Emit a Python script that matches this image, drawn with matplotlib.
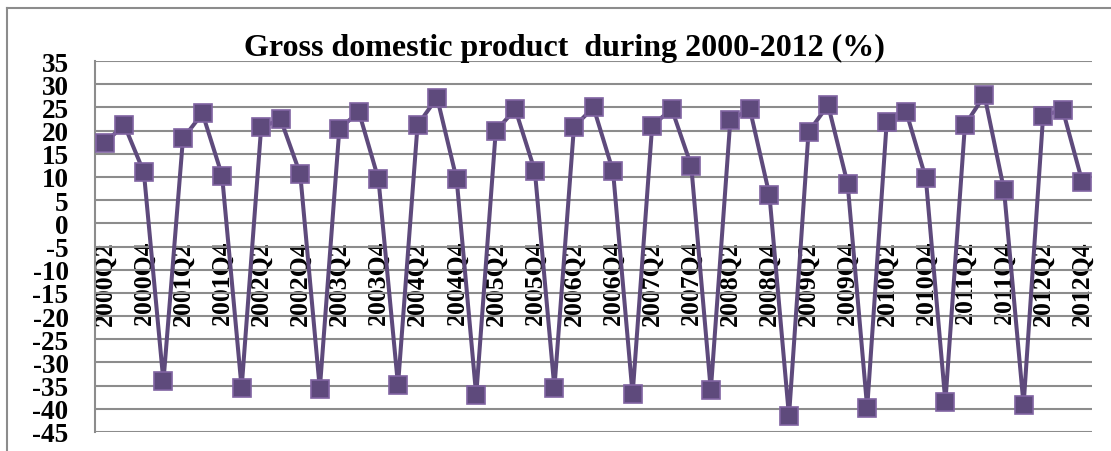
import matplotlib
matplotlib.use("Agg")
import matplotlib.pyplot as plt
from matplotlib.lines import Line2D

quarters = [f"{y}Q{q}" for y in range(2000, 2013) for q in range(1, 5)][1:]
values = [17.4, 21.2, 11.0,
          -34.1, 18.3, 23.7, 10.3,
          -35.5, 20.7, 22.4, 10.6,
          -35.7, 20.4, 24.0, 9.5,
          -34.9, 21.2, 27.1, 9.5,
          -37.1, 19.9, 24.6, 11.3,
          -35.5, 20.8, 25.0, 11.2,
          -36.9, 21.0, 24.7, 12.4,
          -36.0, 22.3, 24.6, 6.1,
          -41.6, 19.7, 25.5, 8.5,
          -39.8, 21.9, 24.0, 9.7,
          -38.5, 21.2, 27.6, 7.2,
          -39.2, 23.2, 24.5, 9.0]
yticks = list(range(-45, 40, 5))
title = "Gross domestic product  during 2000-2012 (%)"

plt.rcParams['font.family'] = ['Liberation Serif', 'DejaVu Serif']

fig = plt.figure(figsize=(11.11, 4.52), dpi=100)
ax = fig.add_axes([95/1111, 1-433/452, (1092-95)/1111, (433-62)/452])
ax.spines['bottom'].set_position(('data', 0))
ax.spines['bottom'].set_visible(False)

x = list(range(len(values)))
ax.plot(x, values, color='#5E4A7C', linewidth=2.9, marker='s', markersize=12.5,
        markerfacecolor='#5E4A7C', markeredgecolor='#8064A2', markeredgewidth=1.2,
        zorder=3, clip_on=False)

ax.set_xlim(-0.5, len(values) - 0.5)
ax.set_ylim(-45, 35)
ax.set_yticks(yticks)
ax.set_yticklabels([str(v) for v in yticks], fontsize=19.5, fontweight='bold')
ax.yaxis.grid(True, color='#8C8C8C', linewidth=1.5)
ax.set_axisbelow(True)

ax.set_xticks(x[::2])
ax.set_xticklabels(quarters[::2], rotation=90, fontsize=18.5, fontweight='bold', va='top', ha='center')
ax.tick_params(axis='x', length=0, pad=12)
ax.tick_params(axis='y', length=0, pad=19)
for s in ['top', 'right']:
    ax.spines[s].set_visible(False)
ax.spines['left'].set_color('#8C8C8C')
ax.spines['left'].set_linewidth(1.5)

fig.text(564/1111, 1-48/452, title, ha='center', va='center', fontsize=23, fontweight='bold')

# outer chart border (top and left)
fig.add_artist(Line2D([7/1111, 1], [1-9/452, 1-9/452], color='#8C8C8C', linewidth=1.5,
                      transform=fig.transFigure))
fig.add_artist(Line2D([7/1111, 7/1111], [0, 1-9/452], color='#8C8C8C', linewidth=1.5,
                      transform=fig.transFigure))

fig.savefig('out.png', dpi=100)
